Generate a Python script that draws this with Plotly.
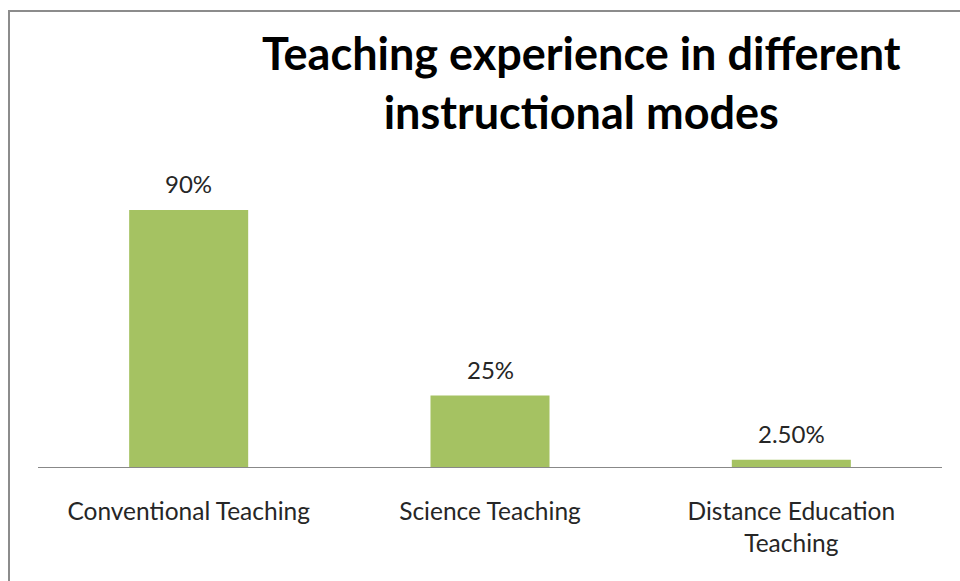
import plotly.graph_objects as go

categories = ["Conventional Teaching", "Science Teaching", "Distance Education<br>Teaching"]
values = [90, 25, 2.5]
value_labels = ["90%", "25%", "2.50%"]
title_text = "<b>Teaching experience in different<br>instructional modes</b>"

W, H = 960, 581
FONT = "Lato, 'Open Sans', sans-serif"
BAR_COLOR = "#A5C262"
TEXT_COLOR = "#262626"

fig = go.Figure()
fig.add_trace(go.Bar(
    x=categories, y=values, marker=dict(color=BAR_COLOR, line=dict(width=0)),
    width=0.395, hoverinfo="skip"
))

for c, v, t in zip(categories, values, value_labels):
    fig.add_annotation(x=c, y=v, xref="x", yref="y", text=t, showarrow=False,
                       yanchor="bottom", yshift=10,
                       font=dict(family=FONT, size=24, color=TEXT_COLOR))

fig.add_annotation(x=581 / W, y=1 - 83 / H, xref="paper", yref="paper", text=title_text,
                   showarrow=False, xanchor="center", yanchor="middle",
                   font=dict(family=FONT, size=45, color="#000000"))

fig.add_shape(type="rect", xref="paper", yref="paper",
              x0=9 / W, x1=1.05, y0=-0.05, y1=1 - 11 / H,
              line=dict(color="#8C8C8C", width=2), fillcolor="rgba(0,0,0,0)")

fig.update_layout(
    width=W, height=H, margin=dict(l=0, r=0, t=0, b=0),
    paper_bgcolor="white", plot_bgcolor="white", showlegend=False,
    bargap=0.6,
    xaxis=dict(domain=[38 / W, 942 / W], showline=True, linecolor="#888888", linewidth=1,
               ticks="", showgrid=False, ticklabelstandoff=23,
               tickfont=dict(family=FONT, size=24.5, color=TEXT_COLOR)),
    yaxis=dict(domain=[(H - 467) / H, (H - 181.4) / H], range=[0, 100],
               visible=False, showgrid=False),
)

fig.write_html("out.html", config={"displayModeBar": False},
               post_script="document.body.style.margin='0';document.body.style.overflow='hidden';")
